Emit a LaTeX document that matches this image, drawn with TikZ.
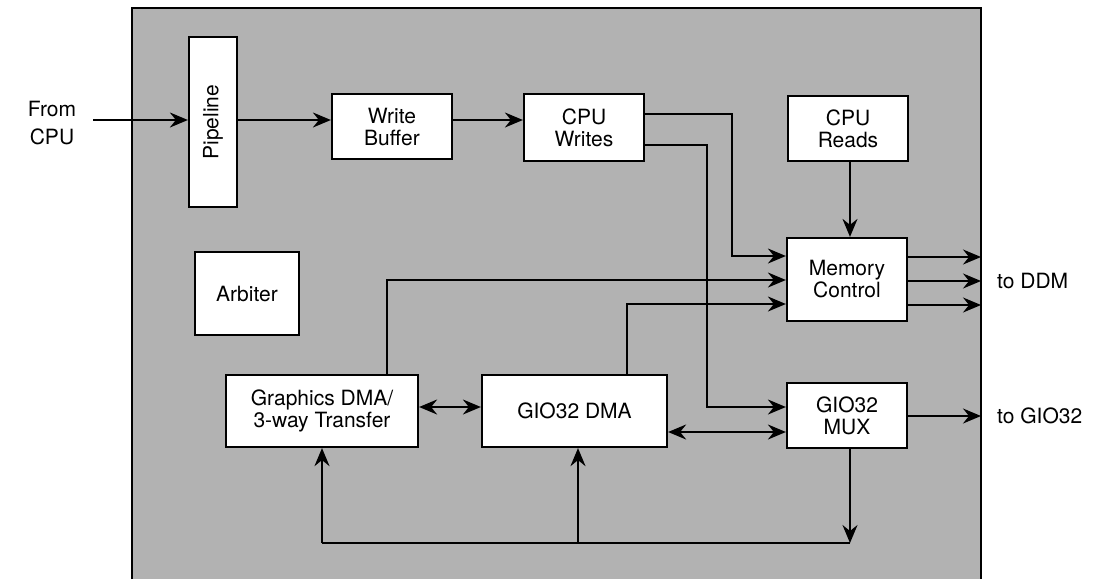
\documentclass[tikz,border=0pt]{standalone}
\usepackage{fontspec}
\setmainfont{TeX Gyre Heros}
\usetikzlibrary{arrows.meta}
\definecolor{halftone}{gray}{0.70}
\begin{document}
\begin{tikzpicture}[x=1pt,y=-1pt,
  blk/.style={draw=black,line width=2.2pt,fill=white,inner sep=0pt,align=center,
    font=\fontsize{21}{22}\selectfont},
  lbl/.style={inner sep=0pt,align=center,font=\fontsize{21}{28}\selectfont},
  tip/.tip={Stealth[length=18pt,width=15pt,inset=6pt]},
  conn/.style={line width=2pt,-tip},
  bidir/.style={line width=2pt,tip-tip},
  plain/.style={line width=2pt}]
\useasboundingbox (0,0) rectangle (1114,579);
% shaded chip area
\fill[halftone] (132,8) rectangle (981,579);
\draw[line width=2.4pt] (132,579) -- (132,8) -- (981,8) -- (981,579);

% blocks
\node[blk,minimum width=48pt,minimum height=170pt] (pipe) at (213,122) {};
\node[rotate=90,font=\fontsize{21}{22}\selectfont] (pipetxt) at (pipe.center) {Pipeline};
\node[blk,minimum width=120pt,minimum height=65pt] (wb) at (392,126.5) {Write\\Buffer};
\node[blk,minimum width=120pt,minimum height=67pt] (cw) at (584,127.5) {CPU\\Writes};
\node[blk,minimum width=120pt,minimum height=65pt] (cr) at (848,128.5) {CPU\\Reads};
\node[blk,minimum width=120pt,minimum height=83pt] (mc) at (847,279.5) {Memory\\Control};
\node[blk,minimum width=104pt,minimum height=83pt] (arb) at (247,293.5) {Arbiter};
\node[blk,minimum width=192pt,minimum height=72pt] (gdma) at (322,411) {Graphics DMA/\\3-way Transfer};
\node[blk,minimum width=185pt,minimum height=72pt] (gio) at (574.5,411) {GIO32 DMA};
\node[blk,minimum width=120pt,minimum height=65pt] (mux) at (847,415.5) {GIO32\\MUX};

% outside labels
\node[lbl] (fromcpu) at (52,123) {From\\CPU};
\node[lbl,anchor=west] (toddm) at (997,281) {to DDM};
\node[lbl,anchor=west] (togio) at (997,416) {to GIO32};

\coordinate (cpuin) at (93,120);
\coordinate (ddm1) at (981,257);
\coordinate (ddm2) at (981,281);
\coordinate (ddm3) at (981,305);
\coordinate (gioout) at (981,416);
\coordinate (busR) at (850,543);
\coordinate (busL) at (322,543);
\coordinate (busM) at (578,543);

% connectors
\draw[conn] (cpuin) -- (cpuin -| pipe.west);
\draw[conn] (pipe.east |- 0,120) -- (wb.west |- 0,120);
\draw[conn] (wb.east |- 0,120) -- (cw.west |- 0,120);
\draw[conn] (cw.east |- 0,114) -- (732,114) -- (732,256) -- (mc.west |- 0,256);
\draw[conn] (cw.east |- 0,145) -- (707,145) -- (707,407) -- (mux.west |- 0,407);
\draw[conn] (cr.south -| 850,0) -- (mc.north -| 850,0);
\draw[conn] (gdma.north -| 387,0) -- (387,280) -- (mc.west |- 0,280);
\draw[conn] (gio.north -| 627,0) -- (627,304) -- (mc.west |- 0,304);
\draw[bidir] (gdma.east |- 0,407) -- (gio.west |- 0,407);
\draw[bidir] (gio.east |- 0,432) -- (mux.west |- 0,432);
\draw[conn] (mc.east |- ddm1) -- (ddm1);
\draw[conn] (mc.east |- ddm2) -- (ddm2);
\draw[conn] (mc.east |- ddm3) -- (ddm3);
\draw[conn] (mux.east |- gioout) -- (gioout);
\draw[conn] (mux.south -| busR) -- (busR);
\draw[plain] (busR) -- (busL);
\draw[conn] (busL) -- (gdma.south -| busL);
\draw[conn] (busM) -- (gio.south -| busM);
\end{tikzpicture}
\end{document}
